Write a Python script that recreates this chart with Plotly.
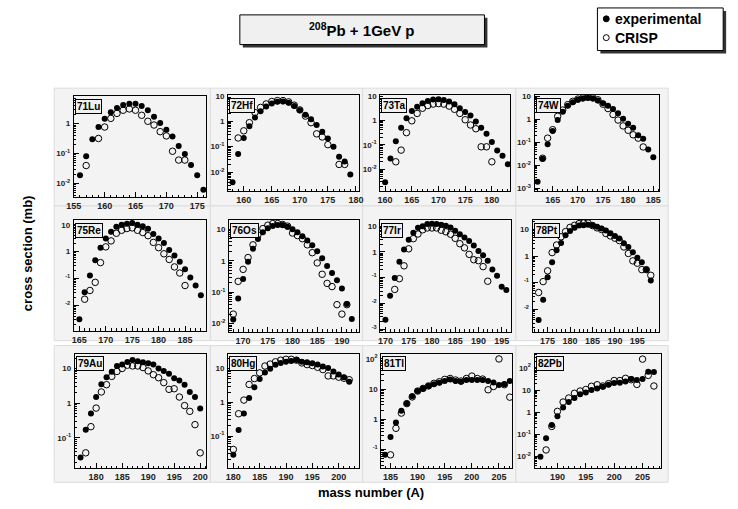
import math
import plotly.graph_objects as go

W, H = 738, 509

# ---------------- data (mass number, cross section in mb) ----------------
labels = ["71Lu", "72Hf", "73Ta", "74W", "75Re", "76Os", "77Ir", "78Pt", "79Au", "80Hg", "81Tl", "82Pb"]

exp_A_Lu = [156, 157, 158, 159, 160, 161, 162, 163, 164, 165, 166, 167, 168, 169, 170, 171, 172, 173, 174, 175, 176]
exp_v_Lu = [0.019, 0.081, 0.30, 0.77, 1.45, 2.4, 3.3, 4.2, 4.6, 4.6, 3.9, 2.8, 1.7, 1.05, 0.62, 0.37, 0.18, 0.097, 0.042, 0.019, 0.0062]
cr_A_Lu = [157, 159, 160, 161, 162, 163, 164, 165, 166, 167, 168, 169, 170, 171, 172, 173]
cr_v_Lu = [0.04, 0.32, 0.77, 1.5, 2.2, 2.8, 3.1, 2.8, 1.9, 1.2, 0.9, 0.54, 0.39, 0.12, 0.061, 0.061]

exp_A_Hf = [158, 159, 160, 161, 162, 163, 164, 165, 166, 167, 168, 169, 170, 171, 172, 173, 174, 175, 176, 177, 178, 179]
exp_v_Hf = [0.004, 0.051, 0.22, 0.64, 1.4, 2.5, 3.8, 5.0, 5.8, 6.0, 5.4, 4.0, 2.7, 1.8, 1.2, 0.72, 0.39, 0.21, 0.1, 0.04, 0.026, 0.008]
cr_A_Hf = [159, 160, 161, 162, 163, 164, 165, 166, 167, 168, 169, 170, 171, 172, 173, 174, 175, 177, 178]
cr_v_Hf = [0.22, 0.42, 0.88, 2.2, 3.5, 4.8, 6.0, 6.5, 6.5, 5.8, 4.3, 2.8, 1.6, 0.88, 0.32, 0.24, 0.12, 0.02, 0.02]

exp_A_Ta = [160, 161, 162, 163, 164, 165, 166, 167, 168, 169, 170, 171, 172, 173, 174, 175, 176, 177, 178, 179, 180, 181, 182, 183]
exp_v_Ta = [0.0029, 0.027, 0.14, 0.49, 1.2, 2.4, 3.6, 5.0, 6.2, 7.0, 7.2, 6.8, 5.8, 4.5, 3.1, 2.2, 1.56, 0.88, 0.49, 0.28, 0.13, 0.058, 0.035, 0.016]
cr_A_Ta = [162, 163, 164, 165, 166, 167, 168, 169, 170, 171, 172, 173, 174, 175, 176, 177, 178, 179, 180]
cr_v_Ta = [0.02, 0.06, 0.31, 0.95, 1.9, 3.1, 4.0, 4.6, 4.8, 4.6, 3.8, 2.8, 1.9, 1.05, 0.64, 0.45, 0.082, 0.082, 0.02]

exp_A_W = [162, 163, 164, 165, 166, 167, 168, 169, 170, 171, 172, 173, 174, 175, 176, 177, 178, 179, 180, 181, 182, 183, 184, 185]
exp_v_W = [0.0019, 0.019, 0.082, 0.31, 0.92, 2.1, 3.9, 5.5, 7.0, 8.0, 8.5, 8.0, 6.5, 5.0, 3.9, 2.75, 1.8, 1.06, 0.63, 0.42, 0.2, 0.14, 0.048, 0.022]
cr_A_W = [163, 164, 165, 166, 167, 168, 169, 170, 171, 172, 173, 174, 175, 176, 177, 178, 179, 180, 181, 182, 183]
cr_v_W = [0.02, 0.15, 0.35, 1.34, 2.5, 4.3, 6.0, 7.5, 8.5, 9.0, 8.5, 7.0, 4.5, 2.9, 1.6, 0.92, 0.51, 0.33, 0.21, 0.15, 0.062]

exp_A_Re = [165, 166, 167, 168, 169, 170, 171, 172, 173, 174, 175, 176, 177, 178, 179, 180, 181, 182, 183, 184, 185, 186, 187, 188]
exp_v_Re = [0.0031, 0.031, 0.13, 0.48, 1.4, 3.1, 5.5, 8.3, 10.0, 10.9, 11.5, 10.0, 8.7, 7.0, 4.5, 3.1, 2.1, 1.15, 0.72, 0.42, 0.22, 0.11, 0.055, 0.024]
cr_A_Re = [166, 167, 168, 169, 170, 171, 172, 173, 174, 175, 176, 177, 178, 179, 180, 181, 182, 183, 184, 185]
cr_v_Re = [0.017, 0.036, 0.072, 0.39, 1.5, 2.5, 4.8, 6.2, 7.2, 7.6, 6.2, 5.1, 3.9, 2.2, 1.4, 0.83, 0.51, 0.27, 0.16, 0.055]

exp_A_Os = [168, 169, 170, 171, 172, 173, 174, 175, 176, 177, 178, 179, 180, 181, 182, 183, 184, 185, 186, 187, 188, 189, 190, 191, 192]
exp_v_Os = [0.0135, 0.063, 0.26, 0.93, 2.4, 4.9, 8.0, 10.7, 12.6, 13.6, 13.6, 12.0, 10.0, 8.0, 6.0, 4.4, 3.1, 2.0, 1.2, 0.68, 0.41, 0.24, 0.13, 0.042, 0.014]
cr_A_Os = [168, 169, 170, 171, 172, 173, 174, 175, 176, 177, 178, 179, 180, 181, 182, 183, 184, 185, 186, 187, 188, 189, 190, 191]
cr_v_Os = [0.02, 0.22, 0.53, 1.26, 3.2, 6.6, 10.5, 13.5, 15.2, 15.2, 14.2, 12.6, 7.6, 6.3, 5.0, 3.2, 1.8, 0.85, 0.37, 0.19, 0.15, 0.04, 0.02, 0.04]

exp_A_Ir = [170, 171, 172, 173, 174, 175, 176, 177, 178, 179, 180, 181, 182, 183, 184, 185, 186, 187, 188, 189, 190, 191, 192, 193, 194, 195, 196]
exp_v_Ir = [0.0023, 0.020, 0.098, 0.42, 1.26, 3.0, 5.6, 8.7, 10.0, 12.2, 12.6, 12.2, 11.5, 10.5, 8.9, 6.7, 4.9, 3.7, 2.7, 1.8, 1.1, 0.74, 0.46, 0.21, 0.12, 0.045, 0.033]
cr_A_Ir = [172, 173, 174, 175, 176, 177, 178, 179, 180, 181, 182, 183, 184, 185, 186, 187, 188, 189, 190, 191, 192]
cr_v_Ir = [0.035, 0.092, 0.29, 1.33, 3.3, 5.0, 7.3, 8.6, 8.6, 8.6, 7.0, 6.1, 4.9, 3.4, 2.1, 1.45, 0.81, 0.5, 0.46, 0.27, 0.073]

exp_A_Pt = [173, 174, 175, 176, 177, 178, 179, 180, 181, 182, 183, 184, 185, 186, 187, 188, 189, 190, 191, 192, 193, 194, 195, 196, 197, 198]
exp_v_Pt = [0.004, 0.023, 0.16, 0.59, 1.65, 3.1, 6.0, 8.7, 11.5, 14.0, 14.3, 15.1, 14.3, 12.5, 10.9, 9.2, 7.2, 5.7, 4.6, 3.0, 2.2, 1.4, 0.87, 0.59, 0.31, 0.12]
cr_A_Pt = [173, 174, 175, 176, 177, 178, 179, 180, 181, 182, 183, 184, 185, 186, 187, 188, 189, 190, 191, 192, 193, 194, 195, 196, 197, 198]
cr_v_Pt = [0.043, 0.11, 0.28, 1.35, 2.6, 5.3, 8.3, 12.0, 14.3, 16.5, 17.4, 17.4, 14.0, 11.5, 10.0, 7.0, 5.7, 4.7, 3.8, 2.2, 1.25, 0.66, 0.54, 0.31, 0.31, 0.19]

exp_A_Au = [177, 178, 179, 180, 181, 182, 183, 184, 185, 186, 187, 188, 189, 190, 191, 192, 193, 194, 195, 196, 197, 198, 199, 200]
exp_v_Au = [0.027, 0.17, 0.5, 1.5, 3.5, 5.6, 8.0, 11.8, 13.0, 15.4, 17.5, 16.0, 15.0, 14.0, 13.0, 10.0, 8.5, 7.0, 5.2, 4.5, 3.4, 2.1, 1.5, 0.7]
cr_A_Au = [178, 179, 180, 181, 182, 183, 184, 185, 186, 187, 188, 189, 190, 191, 192, 193, 194, 195, 196, 197, 198, 199, 200]
cr_v_Au = [0.037, 0.21, 0.72, 2.1, 3.4, 5.9, 8.2, 10.0, 12.4, 11.8, 11.8, 10.6, 8.5, 6.6, 5.4, 3.9, 2.5, 2.6, 1.5, 0.85, 0.58, 0.24, 0.037]

exp_A_Hg = [180, 181, 182, 183, 184, 185, 186, 187, 188, 189, 190, 191, 192, 193, 194, 195, 196, 197, 198, 199, 200, 201, 202]
exp_v_Hg = [0.028, 0.15, 0.47, 1.35, 2.8, 4.9, 7.7, 10.0, 13.0, 14.8, 16.0, 17.0, 18.0, 16.0, 15.6, 14.5, 13.2, 11.7, 10.4, 8.3, 6.7, 5.6, 4.1]
cr_A_Hg = [180, 181, 182, 183, 184, 185, 186, 187, 188, 189, 190, 191, 192, 193, 194, 195, 196, 197, 198, 199, 200, 201, 202]
cr_v_Hg = [0.04, 0.46, 1.17, 3.4, 5.1, 7.5, 12.0, 13.7, 16.0, 17.9, 19.0, 19.0, 17.9, 14.8, 13.2, 12.4, 11.0, 9.4, 6.1, 6.1, 5.6, 5.2, 4.7]

exp_A_Tl = [184, 185, 186, 187, 188, 189, 190, 191, 192, 193, 194, 195, 196, 197, 198, 199, 200, 201, 202, 203, 204, 205, 206, 207]
exp_v_Tl = [0.066, 0.26, 0.78, 1.9, 3.3, 5.8, 8.6, 10.5, 12.7, 14.4, 16.3, 18.5, 21.0, 18.5, 17.5, 20.0, 20.0, 20.0, 20.0, 18.5, 16.7, 13.8, 14.4, 18.5]
cr_A_Tl = [185, 186, 187, 188, 189, 190, 191, 192, 193, 194, 195, 196, 197, 198, 199, 200, 201, 202, 203, 204, 205, 206, 207]
cr_v_Tl = [0.066, 0.5, 1.6, 3.3, 5.5, 8.6, 10.5, 12.7, 15.5, 17.5, 21.0, 22.5, 20.0, 18.5, 22.5, 27.0, 22.5, 21.5, 9.5, 12.2, 100.0, 14.0, 5.4]

exp_A_Pb = [187, 188, 189, 190, 191, 192, 193, 194, 195, 196, 197, 198, 199, 200, 201, 202, 203, 204, 205, 206, 207]
exp_v_Pb = [0.01, 0.067, 0.27, 0.67, 1.65, 2.9, 4.4, 6.5, 7.9, 10.0, 11.8, 14.0, 17.5, 21.0, 21.5, 24.5, 31.6, 28.6, 31.6, 67.0, 65.0]
cr_A_Pb = [188, 189, 190, 191, 192, 193, 194, 195, 196, 197, 198, 199, 200, 201, 202, 203, 204, 205, 206, 207]
cr_v_Pb = [0.02, 0.23, 1.1, 2.9, 4.4, 7.2, 9.1, 10.7, 14.9, 17.5, 15.3, 19.5, 27.0, 27.0, 34.0, 29.5, 18.0, 250.0, 46.0, 15.3]

exp_A = [exp_A_Lu, exp_A_Hf, exp_A_Ta, exp_A_W, exp_A_Re, exp_A_Os, exp_A_Ir, exp_A_Pt, exp_A_Au, exp_A_Hg, exp_A_Tl, exp_A_Pb]
exp_v = [exp_v_Lu, exp_v_Hf, exp_v_Ta, exp_v_W, exp_v_Re, exp_v_Os, exp_v_Ir, exp_v_Pt, exp_v_Au, exp_v_Hg, exp_v_Tl, exp_v_Pb]
cr_A = [cr_A_Lu, cr_A_Hf, cr_A_Ta, cr_A_W, cr_A_Re, cr_A_Os, cr_A_Ir, cr_A_Pt, cr_A_Au, cr_A_Hg, cr_A_Tl, cr_A_Pb]
cr_v = [cr_v_Lu, cr_v_Hf, cr_v_Ta, cr_v_W, cr_v_Re, cr_v_Os, cr_v_Ir, cr_v_Pt, cr_v_Au, cr_v_Hg, cr_v_Tl, cr_v_Pb]

legend_names = ["experimental", "CRISP"]

# axis ranges (x linear, y as log10)
x_ranges = [[155, 176.5], [157.2, 180.5], [159.1, 183.4], [161.4, 186.2],
            [163.95, 189.05], [167.15, 193.4], [168.9, 197.0], [171.65, 199.9],
            [175.9, 201.2], [179.0, 203.8], [183.3, 207.4], [185.97, 208.3]]
y_ranges = [[-2.45, 0.92], [-2.75, 1.03], [-2.9, 1.03], [-3.13, 1.05],
            [-2.94, 1.18], [-2.26, 1.3], [-3.1, 1.25], [-2.84, 1.36],
            [-1.88, 1.43], [-1.96, 1.45], [-1.63, 2.18], [-2.53, 2.65]]
clipped = [False, False, False, False, True, False, True, True, False, False, True, False]

# frames in pixels (left, right, top, bottom)
frames = [(67, 202, 94, 196), (224, 357, 93, 190), (379, 511, 93, 190), (536, 663, 93, 190),
          (67, 202, 219, 331), (225, 357, 219, 332), (379, 512, 219, 332), (534, 663, 219, 332),
          (68, 202, 354, 470), (224, 357, 354, 470), (380, 513, 354, 470), (536, 665, 354, 470)]
pads_x = [(47, 206), (206, 361), (361, 517), (517, 672)]
pads_y = [(86, 205), (205, 341), (346, 484)]

FONT = "Liberation Sans, Arial, Helvetica, sans-serif"


def px(x):
    return x / W


def py(y):
    return 1 - y / H


def tick_text(p, clip):
    if p == 0:
        return "1"
    if p == 1:
        return "10"
    if clip and p < 0:
        return "<sup>%d</sup>" % p
    return "10<sup>%d</sup>" % p


fig = go.Figure()
shapes = []
annotations = []

# pads
for (x0, x1) in pads_x:
    for (y0, y1) in pads_y:
        shapes.append(dict(type="rect", xref="paper", yref="paper", layer="below",
                           x0=px(x0), x1=px(x1), y0=py(y1), y1=py(y0),
                           fillcolor="#f3f3f3", line=dict(color="#dcdcdc", width=1)))

for i in range(12):
    ax = "" if i == 0 else str(i + 1)
    xa, ya = "x" + ax, "y" + ax
    fig.add_trace(go.Scatter(x=exp_A[i], y=exp_v[i], mode="markers", xaxis=xa, yaxis=ya,
                             name=legend_names[0], showlegend=False,
                             marker=dict(symbol="circle", size=6, color="black")))
    fig.add_trace(go.Scatter(x=cr_A[i], y=cr_v[i], mode="markers", xaxis=xa, yaxis=ya,
                             name=legend_names[1], showlegend=False,
                             marker=dict(symbol="circle-open", size=6.5, color="black",
                                         line=dict(width=1, color="black"))))
    l, r, t, b = frames[i]
    lo, hi = y_ranges[i]
    pmin, pmax = math.ceil(lo - 1e-9), math.floor(hi + 1e-9)
    pows = list(range(pmin, pmax + 1))
    minors = []
    for p in range(math.floor(lo), math.ceil(hi) + 1):
        for k in range(2, 10):
            v = k * 10 ** p
            if lo <= math.log10(v) <= hi:
                minors.append(v)
    x0r, x1r = x_ranges[i]
    majors_x = [v for v in range(150, 215, 5) if x0r <= v <= x1r]
    fig.layout["xaxis" + ax] = dict(
        domain=[px(l), px(r)], anchor=ya, range=x_ranges[i],
        showline=True, mirror=True, linecolor="black", linewidth=1,
        showgrid=False, zeroline=False, ticks="inside", ticklen=5, tickcolor="black",
        tickmode="array", tickvals=majors_x, ticktext=[str(v) for v in majors_x],
        minor=dict(ticks="inside", ticklen=2.5, dtick=1, tick0=0, tickcolor="black", showgrid=False),
        tickfont=dict(family=FONT, size=9, color="#222", weight="bold"), ticklabelstandoff=0)
    fig.layout["yaxis" + ax] = dict(
        domain=[py(b), py(t)], anchor=xa, type="log", range=y_ranges[i],
        showline=True, mirror=True, linecolor="black", linewidth=1,
        showgrid=False, zeroline=False, ticks="inside", ticklen=5, tickcolor="black",
        tickmode="array", tickvals=[10.0 ** p for p in pows],
        ticktext=[tick_text(p, clipped[i]) for p in pows],
        minor=dict(ticks="inside", ticklen=2.5, tickmode="array", tickvals=minors, tickcolor="black", showgrid=False),
        tickfont=dict(family=FONT, size=8, color="#222", weight="bold"), ticklabelstandoff=1)
    annotations.append(dict(xref="paper", yref="paper", x=px(l + 1), y=py(t + 3),
                            xanchor="left", yanchor="top", showarrow=False,
                            text="<b>%s</b>" % labels[i],
                            font=dict(family=FONT, size=10, color="black"),
                            bgcolor="#f0f0f0", bordercolor="black", borderwidth=1, borderpad=1))

# title box with shadow
shapes.append(dict(type="rect", xref="paper", yref="paper", x0=px(239), x1=px(488), y0=py(45), y1=py(15),
                   fillcolor="#333333", line=dict(width=0)))
shapes.append(dict(type="rect", xref="paper", yref="paper", x0=px(236), x1=px(485), y0=py(42), y1=py(12),
                   fillcolor="#f0f0f0", line=dict(color="black", width=1)))
annotations.append(dict(xref="paper", yref="paper", x=px(360), y=py(27), showarrow=False,
                        xanchor="center", yanchor="middle",
                        text="<b><sup>208</sup>Pb + 1GeV p</b>", font=dict(family=FONT, size=15, color="black")))

# legend box (drawn by hand, ROOT style) with shadow
shapes.append(dict(type="rect", xref="paper", yref="paper", x0=px(603), x1=px(731), y0=py(51), y1=py(8),
                   fillcolor="#333333", line=dict(width=0)))
shapes.append(dict(type="rect", xref="paper", yref="paper", x0=px(600), x1=px(728), y0=py(48), y1=py(5),
                   fillcolor="white", line=dict(color="black", width=1)))
shapes.append(dict(type="circle", xref="paper", yref="paper", x0=px(606), x1=px(612), y0=py(19), y1=py(13),
                   fillcolor="black", line=dict(color="black", width=1)))
shapes.append(dict(type="circle", xref="paper", yref="paper", x0=px(606), x1=px(612), y0=py(38), y1=py(32),
                   fillcolor="white", line=dict(color="black", width=1)))
annotations.append(dict(xref="paper", yref="paper", x=px(616), y=py(16), showarrow=False,
                        xanchor="left", yanchor="middle", text="<b>%s</b>" % legend_names[0],
                        font=dict(family=FONT, size=14, color="black")))
annotations.append(dict(xref="paper", yref="paper", x=px(616), y=py(35), showarrow=False,
                        xanchor="left", yanchor="middle", text="<b>%s</b>" % legend_names[1],
                        font=dict(family=FONT, size=14, color="black")))

annotations.append(dict(xref="paper", yref="paper", x=px(20), y=py(253), showarrow=False, textangle=-90,
                        xanchor="center", yanchor="middle",
                        text="<b>cross section (mb)</b>", font=dict(family=FONT, size=13, color="black")))
annotations.append(dict(xref="paper", yref="paper", x=px(370), y=py(494), showarrow=False,
                        xanchor="center", yanchor="middle",
                        text="<b>mass number (A)</b>", font=dict(family=FONT, size=13, color="black")))

fig.update_layout(
    width=W, height=H, margin=dict(l=0, r=0, t=0, b=0),
    paper_bgcolor="white", plot_bgcolor="#f3f3f3",
    shapes=shapes, annotations=annotations,
    showlegend=False,
)

fig.write_html("out.html", config={"displayModeBar": False},
               post_script="document.body.style.margin='0';document.body.style.overflow='hidden';")
